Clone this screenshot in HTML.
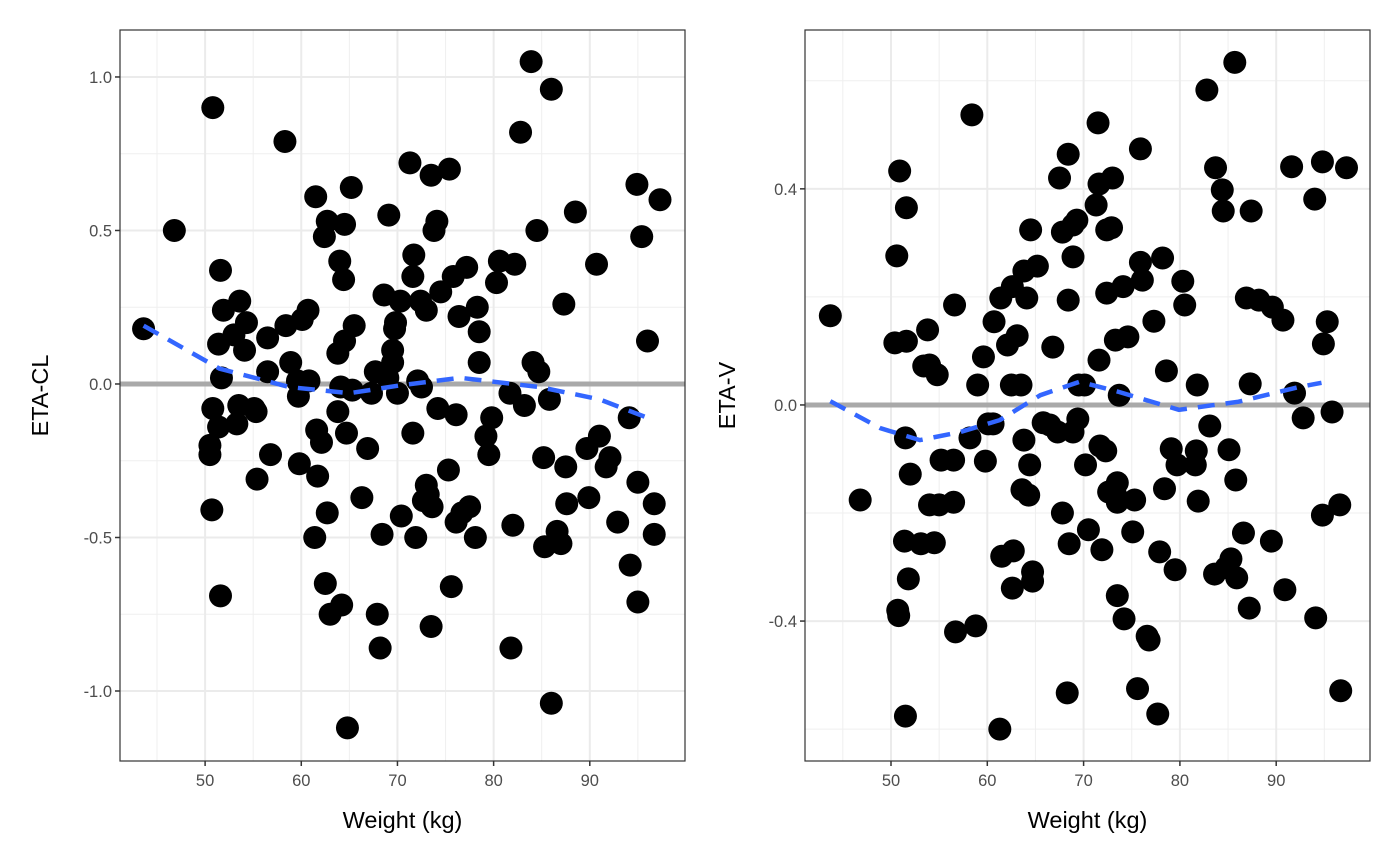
<!DOCTYPE html>
<html><head><meta charset="utf-8"><style>
body{margin:0;background:#fff;}
svg{display:block;font-family:"Liberation Sans","DejaVu Sans",sans-serif;}
</style></head><body>
<svg id="chart" width="1400" height="866" viewBox="0 0 1400 866" xmlns="http://www.w3.org/2000/svg"></svg>
<script>
const clWeight=[43.6,46.8,50.8,51.6,51.9,51.4,51.7,50.8,50.5,50.5,51.4,50.7,51.6,53.6,53.0,54.3,54.1,53.5,53.3,55.1,55.3,55.4,56.5,56.5,56.8,58.3,58.4,58.9,59.6,59.7,59.8,60.1,60.7,60.8,61.5,61.6,61.7,61.4,62.1,62.4,62.7,62.5,62.7,63.0,63.8,64.0,64.1,63.8,64.2,64.5,64.4,64.5,64.7,64.8,65.2,65.5,65.3,66.3,66.9,67.3,67.7,67.9,68.2,68.4,68.6,69.1,69.0,69.5,69.5,69.7,69.8,70.0,70.3,70.4,71.3,71.6,71.7,71.6,71.9,72.1,72.5,72.4,73.0,73.0,72.7,73.2,73.6,73.5,73.5,73.8,74.1,74.2,74.5,75.4,75.3,75.6,75.8,76.1,76.4,76.1,76.7,77.2,77.5,78.1,78.3,78.5,78.5,79.2,79.5,79.8,80.3,80.6,81.7,82.0,81.8,82.2,82.8,83.2,83.9,84.1,84.5,84.7,85.2,85.3,85.8,86.0,86.0,86.6,87.0,87.3,87.5,87.6,88.5,89.7,89.9,90.7,91.0,91.7,92.1,92.9,94.1,94.2,94.9,95.0,95.0,95.4,96.0,96.7,96.7,97.3];
const clEta=[0.18,0.50,0.90,0.37,0.24,0.13,0.02,-0.08,-0.20,-0.23,-0.14,-0.41,-0.69,0.27,0.16,0.20,0.11,-0.07,-0.13,-0.08,-0.09,-0.31,0.15,0.04,-0.23,0.79,0.19,0.07,0.01,-0.04,-0.26,0.21,0.24,0.01,0.61,-0.15,-0.30,-0.50,-0.19,0.48,0.53,-0.65,-0.42,-0.75,0.10,0.40,-0.01,-0.09,-0.72,0.52,0.34,0.14,-0.16,-1.12,0.64,0.19,-0.02,-0.37,-0.21,-0.03,0.04,-0.75,-0.86,-0.49,0.29,0.55,0.02,0.07,0.11,0.18,0.20,-0.03,0.27,-0.43,0.72,0.35,0.42,-0.16,-0.50,0.01,-0.01,0.27,0.24,-0.33,-0.38,-0.36,-0.40,-0.79,0.68,0.50,0.53,-0.08,0.30,0.70,-0.28,-0.66,0.35,-0.10,0.22,-0.45,-0.42,0.38,-0.40,-0.50,0.25,0.17,0.07,-0.17,-0.23,-0.11,0.33,0.40,-0.03,-0.46,-0.86,0.39,0.82,-0.07,1.05,0.07,0.50,0.04,-0.24,-0.53,-0.05,0.96,-1.04,-0.48,-0.52,0.26,-0.27,-0.39,0.56,-0.21,-0.37,0.39,-0.17,-0.27,-0.24,-0.45,-0.11,-0.59,0.65,-0.32,-0.71,0.48,0.14,-0.39,-0.49,0.60];
const clSmoothW=[43.6,51.5,58.8,65,70.2,76.5,84.8,91,96];
const clSmoothY=[0.19,0.05,-0.01,-0.03,-0.005,0.02,-0.01,-0.05,-0.11];
const vWeight=[43.7,46.8,50.6,50.9,50.4,51.6,51.6,51.5,52.0,51.4,51.8,50.7,50.8,51.5,53.1,53.4,53.8,54.0,54.0,54.5,54.8,55.2,55.0,56.5,56.5,56.6,56.7,58.2,58.4,58.8,59.0,59.6,59.8,60.1,60.6,60.7,61.4,61.5,61.3,62.1,62.5,62.6,62.7,62.6,63.1,63.5,63.6,63.8,63.8,64.1,64.3,64.5,64.4,64.7,64.7,65.2,65.8,66.5,66.8,67.3,67.5,67.8,67.8,68.4,68.4,68.5,68.3,68.9,68.9,68.9,69.3,69.4,69.5,70.1,70.2,70.5,71.3,71.5,71.6,71.6,71.7,71.9,72.3,72.4,72.4,72.6,73.0,72.9,73.3,73.3,73.5,73.5,73.5,73.7,74.1,74.2,74.6,75.1,75.3,75.6,75.9,75.9,76.1,76.6,76.8,77.3,77.7,77.9,78.2,78.4,78.6,79.1,79.5,79.7,80.3,80.5,81.6,81.8,81.7,81.9,82.8,83.1,83.6,83.7,84.4,84.5,84.8,85.1,85.3,85.7,85.8,85.9,86.6,86.9,87.2,87.3,87.4,88.2,89.6,89.5,90.7,90.9,91.6,91.9,92.8,94.0,94.1,94.8,94.8,94.9,95.3,95.8,96.6,96.7,97.3];
const vEta=[0.165,-0.176,0.276,0.433,0.115,0.365,0.118,-0.061,-0.128,-0.252,-0.322,-0.38,-0.39,-0.576,-0.257,0.072,0.139,0.074,-0.185,-0.255,0.056,-0.102,-0.185,-0.102,-0.18,0.185,-0.42,-0.061,0.537,-0.409,0.037,0.089,-0.104,-0.035,-0.035,0.154,0.198,-0.28,-0.6,0.111,0.037,0.219,-0.27,-0.339,0.128,0.037,-0.157,-0.065,0.248,0.198,-0.167,0.324,-0.111,-0.309,-0.326,0.257,-0.033,-0.037,0.107,-0.05,0.42,0.32,-0.2,0.464,0.194,-0.257,-0.533,0.333,0.274,-0.05,0.342,-0.026,0.037,0.037,-0.111,-0.231,0.37,0.522,0.409,0.083,-0.076,-0.268,-0.085,0.324,0.207,-0.161,0.42,0.328,0.12,-0.165,-0.144,-0.18,-0.353,0.018,0.219,-0.396,0.126,-0.235,-0.176,-0.525,0.474,0.264,0.231,-0.428,-0.435,0.155,-0.572,-0.272,0.272,-0.155,0.063,-0.081,-0.305,-0.111,0.229,0.185,-0.111,0.037,-0.085,-0.178,0.583,-0.039,-0.313,0.439,0.398,0.359,-0.301,-0.083,-0.285,0.634,-0.139,-0.32,-0.237,0.198,-0.376,0.039,0.359,0.194,0.181,-0.252,0.157,-0.342,0.441,0.022,-0.024,0.381,-0.394,0.45,-0.204,0.113,0.154,-0.013,-0.185,-0.529,0.439];
const vSmoothW=[43.7,48.9,53,57.2,61.3,65.5,69.6,73.7,79.9,86.1,92.3,94.7];
const vSmoothY=[0.007,-0.043,-0.065,-0.05,-0.028,0.018,0.043,0.024,-0.009,0.006,0.033,0.041];
const xTicks=[50,60,70,80,90];
const clTicks=[1.0,0.5,0.0,-0.5,-1.0];
const clTickLabels=["1.0","0.5","0.0","-0.5","-1.0"];
const vTicks=[0.4,0.0,-0.4];
const vTickLabels=["0.4","0.0","-0.4"];

const NS="http://www.w3.org/2000/svg";
const svg=document.getElementById('chart');
function mk(tag,attrs,parent){const e=document.createElementNS(NS,tag);for(const k in attrs)e.setAttribute(k,attrs[k]);parent.appendChild(e);return e;}

function panel(name,box,xDom,yDom,xs,ys,sw,sy,yt,ytl,yMinor,title){
  const g=mk('g',{},svg);
  
  
  const X=v=>box.x0+(v-xDom[0])/(xDom[1]-xDom[0])*(box.x1-box.x0);
  const Y=v=>box.y1-(v-yDom[0])/(yDom[1]-yDom[0])*(box.y1-box.y0);
  const grid=mk('g',{},g);
  
  
  [45,55,65,75,85,95].forEach(v=>mk('line',{x1:X(v),x2:X(v),y1:box.y0,y2:box.y1,stroke:'#efefef','stroke-width':1},grid));
  yMinor.forEach(v=>mk('line',{x1:box.x0,x2:box.x1,y1:Y(v),y2:Y(v),stroke:'#efefef','stroke-width':1},grid));
  xTicks.forEach(v=>mk('line',{x1:X(v),x2:X(v),y1:box.y0,y2:box.y1,stroke:'#ebebeb','stroke-width':2},grid));
  yt.forEach(v=>mk('line',{x1:box.x0,x2:box.x1,y1:Y(v),y2:Y(v),stroke:'#ebebeb','stroke-width':2},grid));
  const zl=mk('line',{x1:box.x0,x2:box.x1,y1:Y(0),y2:Y(0),stroke:'#a9a9a9','stroke-width':5},g);
  
  
  const pts=mk('g',{},g);
  
  
  xs.forEach((w,i)=>{
    const c=mk('circle',{cx:X(w),cy:Y(ys[i]),r:11.5,fill:'#000'},pts);
    
    
  });
  const d=sw.map((w,i)=>(i?'L':'M')+X(w).toFixed(1)+','+Y(sy[i]).toFixed(1)).join(' ');
  const sm=mk('path',{d:d,fill:'none',stroke:'#3366FF','stroke-width':4.5,'stroke-dasharray':'17,11'},g);
  
  
  const fr=mk('rect',{x:box.x0,y:box.y0,width:box.x1-box.x0,height:box.y1-box.y0,fill:'none',stroke:'#333','stroke-width':1.2},g);
  
  
  const xa=mk('g',{},g);
  
  
  xTicks.forEach(v=>{
    mk('line',{x1:X(v),x2:X(v),y1:box.y1,y2:box.y1+5,stroke:'#333','stroke-width':1.5},xa);
    const t=mk('text',{x:X(v),y:box.y1+25,'text-anchor':'middle','font-size':16.5,fill:'#4d4d4d'},xa);
    t.textContent=v;
    
    
  });
  const ya=mk('g',{},g);
  
  
  yt.forEach((v,i)=>{
    mk('line',{x1:box.x0-5,x2:box.x0,y1:Y(v),y2:Y(v),stroke:'#333','stroke-width':1.5},ya);
    const t=mk('text',{x:box.x0-8,y:Y(v)+6,'text-anchor':'end','font-size':16.5,fill:'#4d4d4d'},ya);
    t.textContent=ytl[i];
    
    
  });
  const xt=mk('text',{x:(box.x0+box.x1)/2,y:828,'text-anchor':'middle','font-size':23.5,fill:'#000'},g);
  xt.textContent='Weight (kg)';
  
  
  const cy=(box.y0+box.y1)/2;
  const tx=box.x0-box.tOff;
  const yti=mk('text',{x:tx,y:cy,'text-anchor':'middle','font-size':23.5,fill:'#000',transform:'rotate(-90 '+tx+' '+cy+')'},g);
  yti.textContent=title;
  
  
}
panel('eta-cl',{x0:120,x1:685,y0:30,y1:761,tOff:72},[41.15,99.9],[-1.228,1.153],clWeight,clEta,clSmoothW,clSmoothY,clTicks,clTickLabels,[0.75,0.25,-0.25,-0.75],'ETA-CL');
panel('eta-v',{x0:805,x1:1370,y0:30,y1:761,tOff:70},[41.07,99.74],[-0.659,0.694],vWeight,vEta,vSmoothW,vSmoothY,vTicks,vTickLabels,[0.6,0.2,-0.2,-0.6],'ETA-V');
</script>
</body></html>
